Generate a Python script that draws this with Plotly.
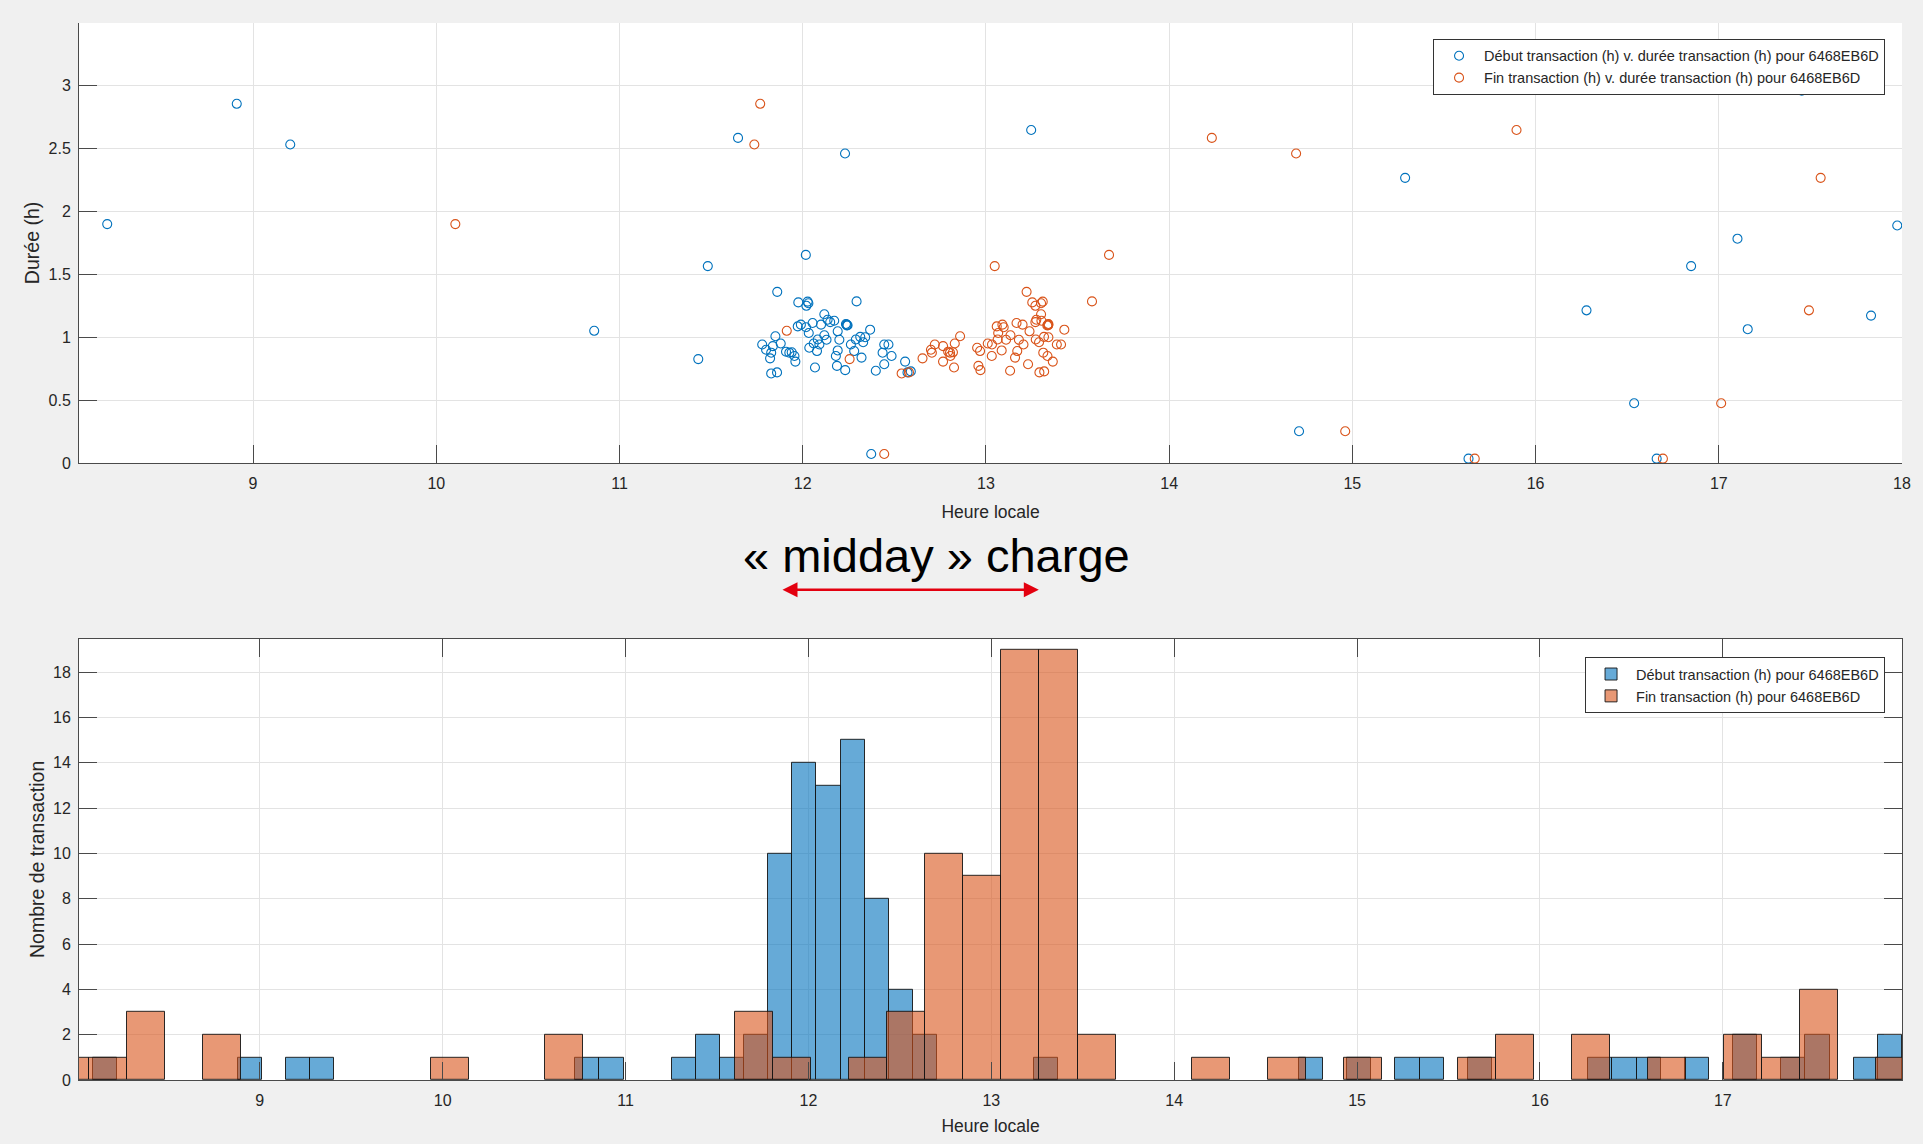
import numpy as np
import plotly.graph_objects as go

# --- Transactions for charger 6468EB6D: start time (h) and duration (h) ---
debut_h = [
    8.204, 8.911, 9.203, 10.862, 11.430, 11.482, 11.647, 11.861, 12.017, 12.231,
    12.294, 12.374, 13.247, 14.709, 15.288, 15.634, 16.278, 16.538, 16.661, 16.849,
    17.102, 17.158, 17.453, 17.831, 17.974,
    11.976, 12.027, 12.031, 12.118, 12.136, 12.172, 11.973, 12.018, 12.054, 12.033,
    12.241, 12.236, 12.191, 12.368, 11.851, 11.779, 11.837, 11.828, 11.822, 11.909,
    11.927, 11.955, 11.960, 11.828, 11.860, 12.036, 12.082, 12.091, 12.078, 12.118,
    12.067, 12.191, 12.181, 12.187, 12.232, 12.263, 12.290, 12.314, 12.341, 12.281,
    12.321, 12.445, 12.468, 12.436, 12.485, 12.445, 12.399, 12.559, 12.590, 12.572,
    11.800, 11.880, 11.990, 12.020, 11.940, 12.100, 12.150, 12.060, 12.130, 12.240,
    12.245, 12.200, 12.330,
]
duree_h = [
    1.900, 2.857, 2.533, 1.051, 0.826, 1.566, 2.586, 1.361, 1.655, 2.462,
    1.285, 0.071, 2.649, 0.252, 2.268, 0.034, 1.214, 0.475, 0.034, 1.566,
    1.784, 1.064, 2.962, 1.172, 1.889,
    1.277, 1.283, 1.270, 1.183, 1.139, 1.131, 1.086, 1.079, 1.113, 1.034,
    1.094, 1.105, 1.047, 1.060, 1.008, 0.942, 0.929, 0.877, 0.832, 0.885,
    0.877, 0.851, 0.806, 0.712, 0.720, 0.916, 0.982, 0.942, 0.890, 1.016,
    0.759, 0.895, 0.851, 0.772, 0.738, 0.942, 0.982, 1.003, 1.000, 0.890,
    0.838, 0.942, 0.942, 0.877, 0.851, 0.785, 0.733, 0.806, 0.728, 0.720,
    0.900, 0.950, 1.100, 1.250, 0.880, 1.100, 1.120, 0.950, 0.980, 1.100,
    1.095, 0.980, 0.960,
]
fin_h = list(np.round(np.array(debut_h) + np.array(duree_h), 3))

# --- Histogram counts (bin start, bin width, counts per bin) ---
hist_debut_start = 8.0872
hist_debut_width = 0.1319
hist_debut_counts = [
    1, 0, 0, 0, 0, 0, 1, 0, 1, 1,
    0, 0, 0, 0, 0, 0, 0, 0, 0, 0,
    1, 1, 0, 0, 1, 2, 1, 2, 10, 14,
    13, 15, 8, 4, 2, 0, 0, 0, 0, 1,
    0, 0, 0, 0, 0, 0, 0, 0, 0, 0,
    1, 0, 1, 0, 1, 1, 0, 1, 0, 0,
    0, 0, 1, 1, 1, 0, 1, 0, 2, 0,
    1, 2, 0, 1, 2,
]
hist_fin_start = 7.8555
hist_fin_width = 0.2080
hist_fin_counts = [
    1, 1, 3, 0, 2, 0, 0, 0, 0, 0,
    1, 0, 0, 2, 0, 0, 0, 0, 3, 1,
    0, 1, 3, 10, 9, 19, 19, 2, 0, 0,
    1, 0, 1, 0, 1, 0, 0, 1, 2, 0,
    2, 0, 1, 0, 2, 1, 4, 0, 1,
]

top_xticks = list(range(9, 19))
top_yticks = [0, 0.5, 1, 1.5, 2, 2.5, 3]
bot_xticks = list(range(9, 18))
bot_yticks = list(range(0, 19, 2))

BLUE = "#0072BD"
ORANGE = "#D95319"
AXIS = "#4a4a4a"
GRID = "#e3e3e3"
TXT = "#262626"
FONT = "Liberation Sans, Arial, sans-serif"


def bins(start, width, counts):
    c = np.array(counts)
    centers = start + width * (np.arange(len(c)) + 0.5)
    keep = c > 0
    return centers[keep], c[keep]


fig = go.Figure()

# Scatter: start / end time vs. duration
fig.add_trace(go.Scatter(
    x=debut_h, y=duree_h, mode="markers",
    name="Début transaction (h) v. durée transaction (h) pour 6468EB6D",
    marker=dict(symbol="circle-open", size=9, color=BLUE, line=dict(width=1.1)),
    xaxis="x", yaxis="y", legend="legend",
))
fig.add_trace(go.Scatter(
    x=fin_h, y=duree_h, mode="markers",
    name="Fin transaction (h) v. durée transaction (h) pour 6468EB6D",
    marker=dict(symbol="circle-open", size=9, color=ORANGE, line=dict(width=1.1)),
    xaxis="x", yaxis="y", legend="legend",
))

# Histograms of start and end times
bx, by = bins(hist_debut_start, hist_debut_width, hist_debut_counts)
fig.add_trace(go.Bar(
    x=bx, y=by, width=hist_debut_width,
    name="Début transaction (h) pour 6468EB6D",
    marker=dict(color="rgba(0,114,189,0.6)", line=dict(color="rgba(20,20,20,0.9)", width=1)),
    xaxis="x2", yaxis="y2", legend="legend2",
))
ox, oy = bins(hist_fin_start, hist_fin_width, hist_fin_counts)
fig.add_trace(go.Bar(
    x=ox, y=oy, width=hist_fin_width,
    name="Fin transaction (h) pour 6468EB6D",
    marker=dict(color="rgba(217,83,25,0.6)", line=dict(color="rgba(20,20,20,0.9)", width=1)),
    xaxis="x2", yaxis="y2", legend="legend2",
))

axis_common = dict(
    ticks="inside", ticklen=18, tickwidth=1, tickcolor=AXIS,
    showline=True, linecolor=AXIS, linewidth=1,
    showgrid=True, gridcolor=GRID, gridwidth=1, zeroline=False,
    tickfont=dict(size=16, color=TXT, family=FONT),
)

legend_common = dict(
    xanchor="right", yanchor="top", bgcolor="white",
    bordercolor="#333333", borderwidth=1,
    font=dict(size=14.5, color=TXT, family=FONT),
    tracegroupgap=0, itemwidth=40,
)

fig.update_layout(
    width=1923, height=1144,
    paper_bgcolor="#f0f0f0", plot_bgcolor="white",
    font=dict(family=FONT, color=TXT),
    margin=dict(l=79, r=16, t=23, b=63),
    barmode="overlay", bargap=0,
    showlegend=True,
    xaxis=dict(
        **axis_common, domain=[0, 1], anchor="y",
        range=[8.05, 18], tickvals=top_xticks, ticklabelstandoff=6,
        title=dict(text="Heure locale", font=dict(size=17.5, color=TXT), standoff=14),
    ),
    yaxis=dict(
        **axis_common, domain=[0.5838, 1], anchor="x",
        range=[0, 3.5], tickvals=top_yticks, ticklabelstandoff=4,
        title=dict(text="Durée (h)", font=dict(size=19.5, color=TXT), standoff=3),
    ),
    xaxis2=dict(
        **axis_common, domain=[0, 1], anchor="y2", mirror="ticks",
        range=[8.0115, 17.98], tickvals=bot_xticks, ticklabelstandoff=6,
        title=dict(text="Heure locale", font=dict(size=17.5, color=TXT), standoff=11),
    ),
    yaxis2=dict(
        **axis_common, domain=[0, 0.4174], anchor="x2", mirror="ticks",
        range=[0, 19.47], tickvals=bot_yticks, ticklabelstandoff=4,
        title=dict(text="Nombre de transaction", font=dict(size=19.5, color=TXT), standoff=3),
    ),
    legend=dict(**legend_common, x=0.9907, y=0.985),
    legend2=dict(**legend_common, x=0.9907, y=0.4001),
)

# Heading between the two panels and the double arrow spanning the midday window
fig.add_annotation(
    text="« midday » charge", xref="paper", yref="paper",
    x=0.4705, y=0.4962, showarrow=False,
    font=dict(size=47, color="black", family=FONT),
)
fig.add_annotation(
    text="", xref="x2", yref="paper", x=13.26, y=0.4638,
    axref="x2", ax=11.85, ayref="pixel", ay=0,
    showarrow=True, arrowside="end+start", arrowhead=2, startarrowhead=2,
    arrowsize=1.2, startarrowsize=1.2, arrowwidth=2.5, arrowcolor="#e3000f",
    standoff=0, startstandoff=0,
)

fig.write_html("out.html")
